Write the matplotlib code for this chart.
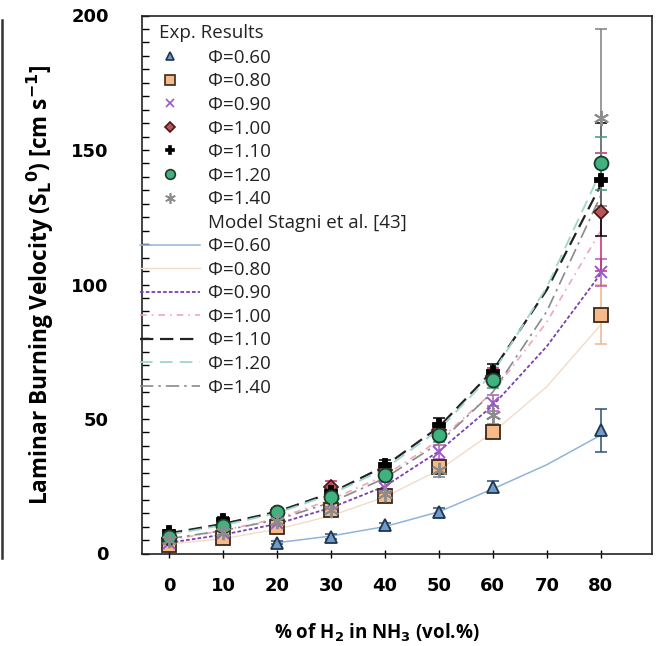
import numpy as np
import matplotlib
matplotlib.use("Agg")
import matplotlib.pyplot as plt
from matplotlib.lines import Line2D

# ---------------- data ----------------
h2_exp = [0, 10, 20, 30, 40, 50, 60, 80]
h2_model = [0, 10, 20, 30, 40, 50, 60, 70, 80]
x_ticks = [0, 10, 20, 30, 40, 50, 60, 70, 80]
y_ticks = [0, 50, 100, 150, 200]
phi_labels = ["Φ=0.60", "Φ=0.80", "Φ=0.90", "Φ=1.00", "Φ=1.10", "Φ=1.20", "Φ=1.40"]

nan = np.nan
exp_060 = [nan, nan, 4.0, 6.3, 10.5, 15.5, 24.8, 45.9]
exp_080 = [3.2, 5.8, 9.9, 16.2, 21.5, 32.3, 45.3, 88.7]
exp_090 = [4.0, 7.5, 11.5, 18.5, 24.5, 37.8, 55.9, 104.5]
exp_100 = [5.5, 10.5, 15.0, 24.8, 31.0, 46.0, 66.0, 127.0]
exp_110 = [8.0, 12.5, 15.5, 23.0, 32.9, 47.8, 67.6, 139.0]
exp_120 = [6.2, 10.2, 15.5, 21.0, 29.2, 44.0, 64.5, 145.0]
exp_140 = [5.0, 8.0, 12.0, 16.0, 22.0, 31.0, 51.5, 162.0]

err_060 = [nan, nan, 0.6, 0.8, 1.0, 1.5, 2.0, 8.0]
err_080 = [0.5, 0.8, 1.0, 1.5, 2.0, 2.5, 2.5, 11.0]
err_090 = [0.5, 0.8, 1.0, 1.5, 2.0, 2.5, 3.0, 5.0]
err_100 = [0.8, 1.0, 1.5, 2.0, 2.0, 2.5, 3.0, 22.0]
err_110 = [0.8, 1.0, 1.5, 2.0, 2.0, 2.5, 3.0, 21.0]
err_120 = [0.8, 1.0, 1.5, 2.0, 2.0, 2.5, 3.0, 10.0]
err_140 = [0.8, 1.0, 1.5, 2.0, 2.0, 2.5, 3.5, 33.0]

mod_060 = [nan, nan, 4.0, 6.5, 10.0, 15.5, 24.0, 33.0, 44.0]
mod_080 = [3.5, 5.5, 9.0, 14.0, 21.0, 31.0, 45.0, 62.0, 85.0]
mod_090 = [4.0, 7.0, 11.0, 17.0, 25.0, 38.0, 55.0, 77.0, 104.0]
mod_100 = [5.0, 8.5, 13.0, 20.0, 29.0, 42.0, 60.0, 86.0, 120.0]
mod_110 = [7.5, 11.0, 15.5, 22.5, 32.5, 47.0, 68.0, 98.0, 137.0]
mod_120 = [7.0, 10.5, 15.0, 22.0, 31.5, 46.0, 67.0, 99.0, 142.0]
mod_140 = [5.5, 8.5, 12.5, 19.0, 28.0, 41.0, 60.0, 90.0, 133.0]

exp_sets = [exp_060, exp_080, exp_090, exp_100, exp_110, exp_120, exp_140]
err_sets = [err_060, err_080, err_090, err_100, err_110, err_120, err_140]
mod_sets = [mod_060, mod_080, mod_090, mod_100, mod_110, mod_120, mod_140]

# ---------------- styles ----------------
mk = ['^', 's', 'x', 'D', 'P', 'o', (6, 2, 0)]
mk_face = ['#6f9cc8', '#f6b98a', '#9b59c8', '#b8555a', '#000000', '#3fb27f', '#8c8c8c']
mk_edge = ['#1f3550', '#3a2a1a', '#9b59c8', '#4a1a1a', '#000000', '#1d3a2a', '#8c8c8c']
mk_size = [9, 10, 9, 7.5, 9, 10, 11]
err_col = ['#2c4f78', '#f0b48a', '#b05ab8', '#c8286e', '#000000', '#3a9a70', '#7f7f7f']

ln_col = ['#8fb4da', '#f1dccb', '#7a3fb0', '#f2a6b6', '#222222', '#9fd6cc', '#8a8a8a']
ln_style = ['-', '-', (0, (2, 1.2)), (0, (4, 3, 1, 3)), (0, (6, 3)), (0, (7, 4)), (0, (8, 3, 1.5, 3))]
ln_w = [1.1, 1.0, 1.3, 1.2, 1.6, 1.3, 1.2]

fig = plt.figure(figsize=(6.56, 6.46), dpi=100)
ax = fig.add_axes([142 / 656, 1 - 553.5 / 646, 510 / 656, 538 / 646])

for i in range(7):
    ax.plot(h2_model, mod_sets[i], color=ln_col[i], linestyle=ln_style[i], lw=ln_w[i], zorder=2)

for i in range(7):
    ax.errorbar(h2_exp, exp_sets[i], yerr=err_sets[i], fmt='none', ecolor=err_col[i],
                elinewidth=1.1, capsize=4, capthick=1.1, zorder=3)
    ms_kw = dict(marker=mk[i], linestyle='none', markersize=mk_size[i],
                 markerfacecolor=mk_face[i], markeredgecolor=mk_edge[i], markeredgewidth=1.3)
    if mk[i] in ('x', (6, 2, 0)):
        ms_kw.update(markeredgewidth=1.4)
    ax.plot(h2_exp, exp_sets[i], zorder=4, **ms_kw)

ax.set_xlim(-5, 89.5)
ax.set_ylim(0, 200)
ax.set_xticks(x_ticks, [str(v) for v in x_ticks])
ax.set_yticks(y_ticks, [str(v) for v in y_ticks])
ax.set_yticks(np.arange(0, 201, 5), minor=True)
ax.tick_params(axis='y', which='both', direction='in', length=5, width=1, right=False, pad=24,
               labelsize=13)
ax.tick_params(axis='x', which='major', direction='inout', length=6, width=1, top=False, pad=14,
               labelsize=13)
ax.tick_params(axis='x', which='minor', bottom=False, top=False)
for lab in ax.get_xticklabels() + ax.get_yticklabels():
    lab.set_fontweight('bold')
    lab.set_fontfamily('DejaVu Sans')
for s in ax.spines.values():
    s.set_linewidth(1.2)
    s.set_color('#222222')

ax.set_xlabel("% of H$_\\mathbf{2}$ in NH$_\\mathbf{3}$ (vol.%)", fontsize=13.5, fontweight='bold',
              fontfamily='Open Sans')
ax.xaxis.set_label_coords(0.461, -0.127)
ax.set_ylabel("Laminar Burning Velocity (S$_\\mathbf{L}$$^\\mathbf{0}$) [cm s$^{\\mathbf{-1}}$]",
              fontsize=16.3, fontweight='bold', fontfamily='Open Sans')
ax.yaxis.set_label_coords(-0.168, 0.5)

# legend
handles = []
labels = []
for i in range(7):
    h = Line2D([], [], marker=mk[i], linestyle='none', markersize=mk_size[i] * 0.7,
               markerfacecolor=mk_face[i], markeredgecolor=mk_edge[i], markeredgewidth=1.2)
    handles.append(h)
    labels.append(phi_labels[i])
handles.append(Line2D([], [], linestyle='none'))
labels.append("Model Stagni et al. [43]")
for i in range(7):
    handles.append(Line2D([], [], color=ln_col[i], linestyle=ln_style[i], lw=ln_w[i]))
    labels.append(phi_labels[i])

leg = ax.legend(handles, labels, loc='upper left', bbox_to_anchor=(-0.004, 0.938),
                frameon=False, handlelength=3.2, handletextpad=0.43,
                labelspacing=0.296, borderpad=0, borderaxespad=0,
                prop={'family': 'Open Sans', 'size': 13.5})
for t in leg.get_texts():
    t.set_color('#222222')
ax.text(0.033, 0.9675, "Exp. Results", transform=ax.transAxes, fontsize=13.5,
        fontfamily='Open Sans', va='center', ha='left', color='#222222')

# left border artifact
fig.add_artist(Line2D([1.5 / 656, 1.5 / 656], [1 - 558 / 646, 1 - 20 / 646],
                      transform=fig.transFigure, color='#333333', lw=1.8))

fig.savefig("out.png", dpi=100)
